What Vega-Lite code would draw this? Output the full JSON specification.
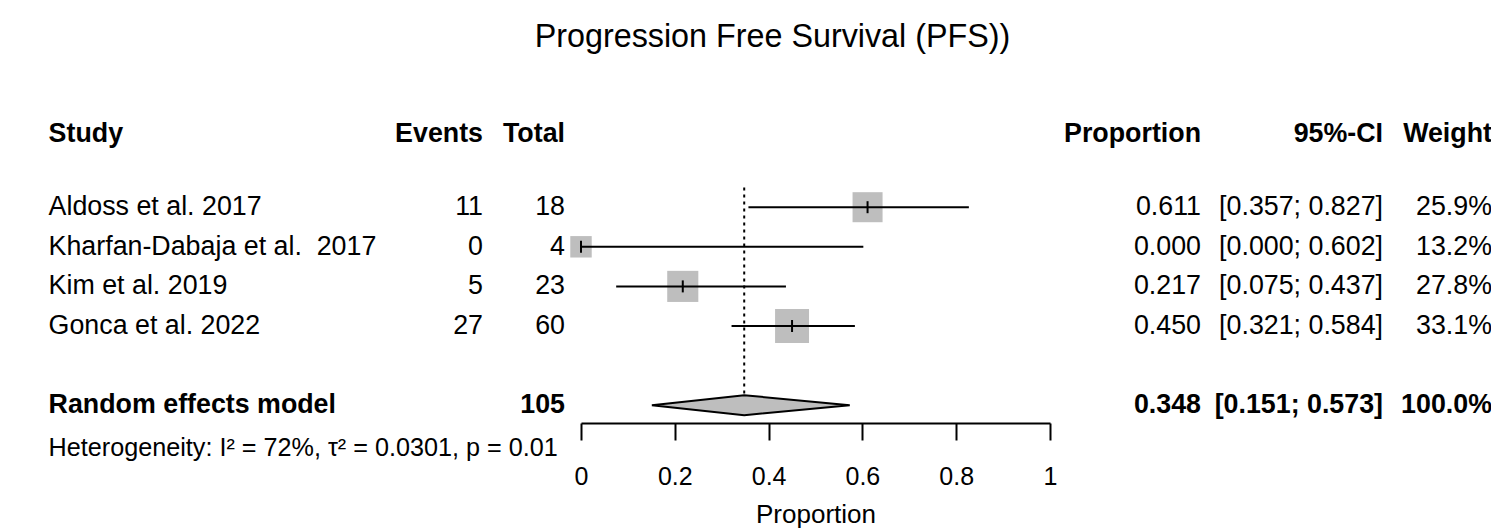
{
  "$schema": "https://vega.github.io/schema/vega-lite/v6.json",
  "autosize": "none",
  "padding": {"left": 581, "right": 441, "top": 108.2, "bottom": 63.4},
  "width": 469,
  "height": 356.4,
  "background": "white",
  "title": {
    "text": "Progression Free Survival (PFS))",
    "font": "Liberation Sans",
    "fontSize": 32.3,
    "fontWeight": "normal",
    "color": "black",
    "anchor": "middle",
    "baseline": "alphabetic",
    "offset": 29,
    "dx": -43
  },
  "config": {
    "view": {"stroke": null},
    "text": {"font": "Liberation Sans", "fontSize": 26.8, "color": "black", "baseline": "middle"},
    "axis": {
      "labelFont": "Liberation Sans", "titleFont": "Liberation Sans",
      "labelColor": "black", "titleColor": "black", "domainColor": "black", "tickColor": "black"
    }
  },
  "datasets": {
    "studies": [
      {"study": "Aldoss et al. 2017", "events": 11, "total": 18, "prop": 0.611, "lower": 0.357, "upper": 0.827, "weight": 0.259, "ci": "[0.357; 0.827]"},
      {"study": "Kharfan-Dabaja et al. \u00a02017", "events": 0, "total": 4, "prop": 0.0, "lower": 0.0, "upper": 0.602, "weight": 0.132, "ci": "[0.000; 0.602]"},
      {"study": "Kim et al. 2019", "events": 5, "total": 23, "prop": 0.217, "lower": 0.075, "upper": 0.437, "weight": 0.278, "ci": "[0.075; 0.437]"},
      {"study": "Gonca et al. 2022", "events": 27, "total": 60, "prop": 0.45, "lower": 0.321, "upper": 0.584, "weight": 0.331, "ci": "[0.321; 0.584]"}
    ],
    "pooled": [
      {"study": "Random effects model", "total": 105, "prop": 0.348, "lower": 0.151, "upper": 0.573, "weight": 1.0, "ci": "[0.151; 0.573]"}
    ],
    "diamond": [
      {"study": "Random effects model", "seq": 1, "x": 0.151, "pos": "mid"},
      {"study": "Random effects model", "seq": 2, "x": 0.348, "pos": "top"},
      {"study": "Random effects model", "seq": 3, "x": 0.573, "pos": "mid"},
      {"study": "Random effects model", "seq": 4, "x": 0.348, "pos": "bottom"},
      {"study": "Random effects model", "seq": 5, "x": 0.151, "pos": "mid"}
    ],
    "one": [{}]
  },
  "encoding": {
    "y": {
      "field": "study", "type": "nominal",
      "scale": {
        "type": "band",
        "domain": ["Header", "gap1", "Aldoss et al. 2017", "Kharfan-Dabaja et al. \u00a02017", "Kim et al. 2019", "Gonca et al. 2022", "gap2", "Random effects model", "Heterogeneity"],
        "paddingInner": 0, "paddingOuter": 0
      },
      "axis": null
    }
  },
  "layer": [
    {
      "data": {"name": "pooled"},
      "mark": {"type": "rule", "stroke": "black", "strokeWidth": 2, "strokeDash": [3, 4]},
      "encoding": {
        "x": {
          "field": "prop", "type": "quantitative",
          "scale": {"domain": [0, 1], "nice": false, "zero": false},
          "axis": {
            "orient": "bottom", "offset": -41.6, "values": [0, 0.2, 0.4, 0.6, 0.8, 1],
            "labelExpr": "datum.value == 0 || datum.value == 1 ? format(datum.value, 'd') : format(datum.value, '.1f')",
            "grid": false, "domainWidth": 2, "tickWidth": 2, "tickSize": 17,
            "labelFontSize": 25, "labelPadding": 24, "labelFlush": false, "labelOverlap": false,
            "title": "Proportion", "titleFontSize": 26, "titleFontWeight": "normal", "titlePadding": 12
          }
        },
        "y": {"datum": "Aldoss et al. 2017", "type": "nominal", "bandPosition": 0},
        "y2": {"datum": "Random effects model"}
      }
    },
    {
      "data": {"name": "studies"},
      "mark": {"type": "point", "shape": "square", "filled": true, "fill": "#bebebe", "opacity": 1, "strokeWidth": 0},
      "encoding": {
        "x": {"field": "prop", "type": "quantitative"},
        "size": {"field": "weight", "type": "quantitative", "scale": {"domain": [0, 1], "range": [0, 3481], "zero": true}, "legend": null}
      }
    },
    {
      "data": {"name": "studies"},
      "mark": {"type": "rule", "stroke": "black", "strokeWidth": 2},
      "encoding": {
        "x": {"field": "lower", "type": "quantitative"},
        "x2": {"field": "upper"}
      }
    },
    {
      "data": {"name": "studies"},
      "mark": {"type": "tick", "orient": "vertical", "color": "black", "thickness": 2, "size": 12, "opacity": 1},
      "encoding": {
        "x": {"field": "prop", "type": "quantitative"}
      }
    },
    {
      "data": {"name": "diamond"},
      "mark": {"type": "line", "fill": "#bebebe", "stroke": "black", "strokeWidth": 2, "interpolate": "linear"},
      "encoding": {
        "x": {"field": "x", "type": "quantitative"},
        "yOffset": {"field": "pos", "type": "nominal", "scale": {"type": "point", "domain": ["top", "mid", "bottom"], "range": [9.8, 29.8], "padding": 0}},
        "order": {"field": "seq", "type": "quantitative"}
      }
    },
    {
      "data": {"name": "studies"},
      "mark": {"type": "text", "align": "left"},
      "encoding": {"x": {"datum": -1.1352}, "text": {"field": "study"}}
    },
    {
      "data": {"name": "pooled"},
      "mark": {"type": "text", "align": "left", "fontWeight": "bold"},
      "encoding": {"x": {"datum": -1.1352}, "text": {"field": "study"}}
    },
    {
      "data": {"name": "studies"},
      "mark": {"type": "text", "align": "right"},
      "encoding": {"x": {"datum": -0.209}, "text": {"field": "events"}}
    },
    {
      "data": {"name": "studies"},
      "mark": {"type": "text", "align": "right"},
      "encoding": {"x": {"datum": -0.0341}, "text": {"field": "total"}}
    },
    {
      "data": {"name": "pooled"},
      "mark": {"type": "text", "align": "right", "fontWeight": "bold"},
      "encoding": {"x": {"datum": -0.0341}, "text": {"field": "total"}}
    },
    {
      "data": {"name": "studies"},
      "mark": {"type": "text", "align": "right"},
      "encoding": {"x": {"datum": 1.322}, "text": {"field": "prop", "format": ".3f"}}
    },
    {
      "data": {"name": "pooled"},
      "mark": {"type": "text", "align": "right", "fontWeight": "bold"},
      "encoding": {"x": {"datum": 1.322}, "text": {"field": "prop", "format": ".3f"}}
    },
    {
      "data": {"name": "studies"},
      "mark": {"type": "text", "align": "right"},
      "encoding": {"x": {"datum": 1.71}, "text": {"field": "ci"}}
    },
    {
      "data": {"name": "pooled"},
      "mark": {"type": "text", "align": "right", "fontWeight": "bold"},
      "encoding": {"x": {"datum": 1.71}, "text": {"field": "ci"}}
    },
    {
      "data": {"name": "studies"},
      "mark": {"type": "text", "align": "right"},
      "encoding": {"x": {"datum": 1.9424}, "text": {"field": "weight", "format": ".1%"}}
    },
    {
      "data": {"name": "pooled"},
      "mark": {"type": "text", "align": "right", "fontWeight": "bold"},
      "encoding": {"x": {"datum": 1.9424}, "text": {"field": "weight", "format": ".1%"}}
    },
    {
      "data": {"name": "one"},
      "mark": {"type": "text", "align": "left", "fontWeight": "bold", "text": "Study", "dy": 6},
      "encoding": {"x": {"datum": -1.1352}, "y": {"datum": "Header", "type": "nominal"}}
    },
    {
      "data": {"name": "one"},
      "mark": {"type": "text", "align": "right", "fontWeight": "bold", "text": "Events", "dy": 6},
      "encoding": {"x": {"datum": -0.209}, "y": {"datum": "Header", "type": "nominal"}}
    },
    {
      "data": {"name": "one"},
      "mark": {"type": "text", "align": "right", "fontWeight": "bold", "text": "Total", "dy": 6},
      "encoding": {"x": {"datum": -0.0341}, "y": {"datum": "Header", "type": "nominal"}}
    },
    {
      "data": {"name": "one"},
      "mark": {"type": "text", "align": "right", "fontWeight": "bold", "text": "Proportion", "dy": 6},
      "encoding": {"x": {"datum": 1.322}, "y": {"datum": "Header", "type": "nominal"}}
    },
    {
      "data": {"name": "one"},
      "mark": {"type": "text", "align": "right", "fontWeight": "bold", "text": "95%-CI", "dy": 6},
      "encoding": {"x": {"datum": 1.71}, "y": {"datum": "Header", "type": "nominal"}}
    },
    {
      "data": {"name": "one"},
      "mark": {"type": "text", "align": "right", "fontWeight": "bold", "text": "Weight", "dy": 6},
      "encoding": {"x": {"datum": 1.9424}, "y": {"datum": "Header", "type": "nominal"}}
    },
    {
      "data": {"name": "one"},
      "mark": {"type": "text", "align": "left", "fontSize": 25.2, "dy": 3, "text": "Heterogeneity: I² = 72%, τ² = 0.0301, p = 0.01"},
      "encoding": {"x": {"datum": -1.1352}, "y": {"datum": "Heterogeneity", "type": "nominal"}}
    }
  ]
}
